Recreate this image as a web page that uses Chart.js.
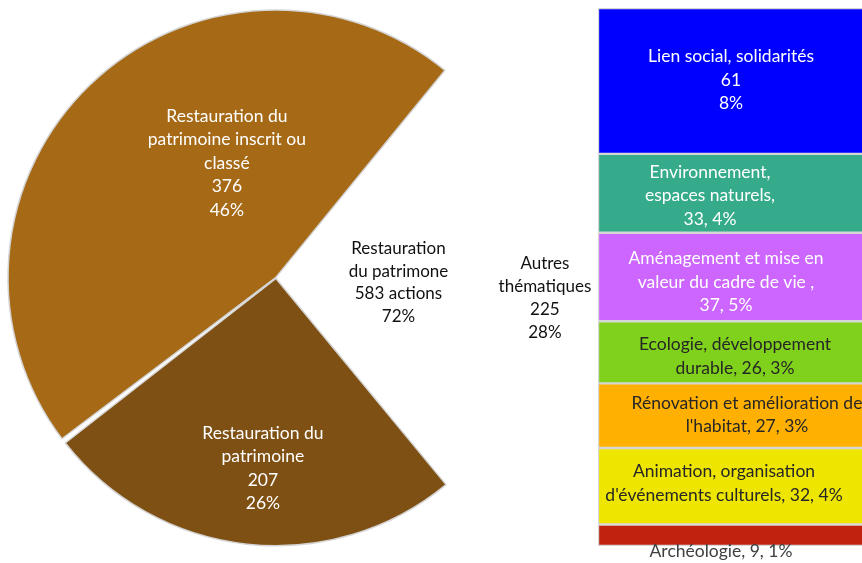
<!DOCTYPE html>
<html><head><meta charset="utf-8">
<script src="https://cdn.jsdelivr.net/npm/chart.js@4/dist/chart.umd.min.js"></script>
<style>
html,body{margin:0;padding:0;background:#fff;overflow:hidden;width:862px;height:563px;}
#pieWrap{position:absolute;left:0;top:0;width:862px;height:563px;}
#barWrap{position:absolute;left:598px;top:0;width:266px;height:563px;}
</style></head><body>
<div id="pieWrap"><canvas id="pie"></canvas></div>
<div id="barWrap"><canvas id="bar"></canvas></div>
<script>
// ---------- data ----------
const pieCategories = ["Autres thématiques", "Restauration du patrimoine", "Restauration du patrimoine inscrit ou classé"];
const pieValues = [225, 207, 376];
const pieLabelLines = [null,
  ["Restauration du", "patrimoine", "207", "26%"],
  ["Restauration du", "patrimoine inscrit ou", "classé", "376", "46%"]];
const groupLabelLines = [
  ["Restauration", "du patrimone", "583 actions", "72%"],
  ["Autres", "thématiques", "225", "28%"]];

const barCategories = ["Lien social, solidarités", "Environnement, espaces naturels",
  "Aménagement et mise en valeur du cadre de vie", "Ecologie, développement durable",
  "Rénovation et amélioration de l'habitat", "Animation, organisation d'événements culturels",
  "Archéologie"];
const barValues = [61, 33, 37, 26, 27, 32, 9];
const barLabelLines = [
  ["Lien social, solidarités", "61", "8%"],
  ["Environnement,", "espaces naturels,", "33, 4%"],
  ["Aménagement et mise en", "valeur du cadre de vie ,", "37, 5%"],
  ["Ecologie, développement", "durable, 26, 3%"],
  ["Rénovation et amélioration de", "l'habitat, 27, 3%"],
  ["Animation, organisation", "d'événements culturels, 32, 4%"],
  ["Archéologie, 9, 1%"]];

// ---------- styles ----------
const FONT = "Lato, 'Open Sans', sans-serif";
const pieColors = ['rgba(0,0,0,0)', '#7F5013', '#A66A17'];
const pieBorders = [0, 1.5, 1.5];
const pieLabelAnchor = [null, [0.475, 0.716], [0.624, 0.47]]; // [fraction of slice angle, fraction of radius]
const groupAnchor = [[0.46, 0.017], [1.01, 0.075]];             // [dx, dy] as fraction of radius
const barColors = ['#0000FF', '#35AB8B', '#CC66FF', '#7FD11B', '#FFB000', '#EEE600', '#C0220F'];
const barTextColors = ['#fff', '#fff', '#fff', '#262626', '#262626', '#262626', '#404040'];
const barLabelDx = [0, -21, -5, 4, 16, -7, -10];
const barLabelDy = [-1, 2.5, 5, 4, -1, -3, 0];

function drawLines(ctx, lines, x, y, lh) {
  const y0 = y - (lines.length - 1) * lh / 2;
  lines.forEach((t, k) => ctx.fillText(t, x, y0 + k * lh));
}

const pieLabelPlugin = {
  id: 'pieLabels',
  afterDatasetsDraw(chart) {
    const ctx = chart.ctx;
    const meta = chart.getDatasetMeta(0);
    ctx.save();
    ctx.textAlign = 'center';
    ctx.textBaseline = 'middle';
    let R = 0, CX = 0, CY = 0;
    meta.data.forEach((arc, i) => {
      const p = arc.getProps(['x', 'y', 'startAngle', 'endAngle', 'outerRadius'], true);
      R = p.outerRadius; CX = p.x; CY = p.y;
      const lines = pieLabelLines[i];
      if (!lines) return;
      const a = p.startAngle + (p.endAngle - p.startAngle) * pieLabelAnchor[i][0];
      const r = p.outerRadius * pieLabelAnchor[i][1];
      ctx.fillStyle = '#ffffff';
      ctx.font = "17.5px " + FONT;
      drawLines(ctx, lines, p.x + Math.cos(a) * r, p.y + Math.sin(a) * r, 23.5);
    });
    ctx.fillStyle = '#111';
    ctx.font = "17px " + FONT;
    groupLabelLines.forEach((lines, i) => {
      drawLines(ctx, lines, CX + groupAnchor[i][0] * R, CY + groupAnchor[i][1] * R, 22.7);
    });
    ctx.restore();
  }
};

new Chart(document.getElementById('pie'), {
  type: 'pie',
  data: {
    labels: pieCategories,
    datasets: [{
      data: pieValues,
      backgroundColor: pieColors,
      borderColor: ['rgba(0,0,0,0)', '#d4d4d4', '#d4d4d4'],
      borderWidth: pieBorders,
      offset: [0, 2, 2],
      spacing: 2
    }]
  },
  options: {
    responsive: true, maintainAspectRatio: false, animation: false,
    rotation: 90 - (pieValues[0] / pieValues.reduce((a, b) => a + b, 0)) * 180,
    layout: { padding: { left: 7, top: 8, right: 317, bottom: 15 } },
    plugins: { legend: { display: false }, tooltip: { enabled: false } }
  },
  plugins: [pieLabelPlugin]
});

const barLabelPlugin = {
  id: 'barLabels',
  afterDatasetsDraw(chart) {
    const ctx = chart.ctx;
    ctx.save();
    ctx.textAlign = 'center';
    ctx.textBaseline = 'middle';
    chart.data.datasets.forEach((ds, di) => {
      const i = ds.catIndex;
      const el = chart.getDatasetMeta(di).data[0];
      const lines = barLabelLines[i];
      ctx.fillStyle = barTextColors[i];
      ctx.font = "17.5px " + FONT;
      let cy;
      if (i === barCategories.length - 1) cy = el.base + 5;
      else cy = (el.y + el.base) / 2 + barLabelDy[i];
      drawLines(ctx, lines, el.x + barLabelDx[i], cy, 23.5);
    });
    ctx.restore();
  }
};

const barDatasets = barCategories.map((c, i) => ({
  label: c, catIndex: i, data: [barValues[i]],
  backgroundColor: barColors[i], borderColor: '#d6d6d6', borderWidth: 1.5,
  borderSkipped: false, categoryPercentage: 1, barPercentage: 1
})).reverse();

new Chart(document.getElementById('bar'), {
  type: 'bar',
  data: { labels: ['Autres thématiques'], datasets: barDatasets },
  options: {
    responsive: true, maintainAspectRatio: false, animation: false,
    layout: { padding: { top: 8, bottom: 17, left: 0, right: 0 } },
    scales: {
      x: { display: false, stacked: true },
      y: { display: false, stacked: true, min: 0, max: barValues.reduce((a, b) => a + b, 0) }
    },
    plugins: { legend: { display: false }, tooltip: { enabled: false } }
  },
  plugins: [barLabelPlugin]
});
</script>
</body></html>
